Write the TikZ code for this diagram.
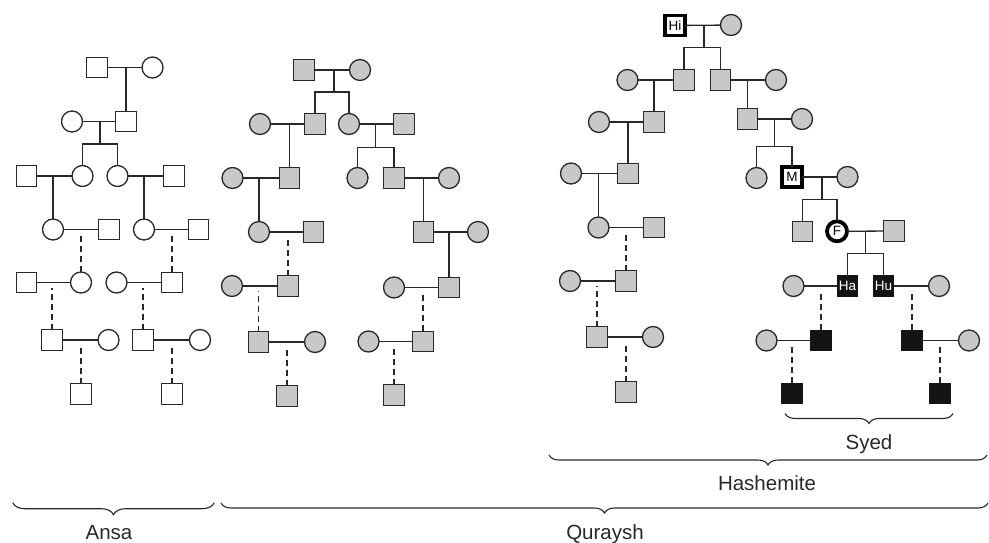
\documentclass[tikz,border=0pt]{standalone}
\usepackage{fontspec}
\setmainfont{Liberation Sans}
\usetikzlibrary{decorations.pathreplacing}
\definecolor{lc}{RGB}{40,40,40}
\definecolor{gfill}{RGB}{200,200,200}
\definecolor{bfill}{RGB}{20,20,20}
\begin{document}
\begin{tikzpicture}[x=1pt,y=-1pt,
  every node/.style={inner sep=0pt, outer sep=0pt},
  male/.style={rectangle, draw=lc, line width=1.3pt, minimum size=20.5pt},
  fem/.style={circle, draw=lc, line width=1.3pt, minimum size=21pt},
  plain/.style={fill=white},
  shade/.style={fill=gfill},
  dark/.style={fill=bfill, draw=bfill, text=white},
  heavy/.style={line width=3.8pt, draw=black, fill=white, minimum size=20pt},
  link/.style={draw=lc, line width=1.3pt},
  dlink/.style={link, dash pattern=on 6pt off 4pt, shorten >=5pt},
  tag/.style={font=\fontsize{13.5}{15}\selectfont},
  group/.style={font=\fontsize{20.5}{24}\selectfont, anchor=base, text=lc},
  brc/.style={draw=lc, line width=1.1pt, decorate, decoration={brace, mirror, amplitude=10pt}}
]
\useasboundingbox (0,0) rectangle (989,542);

% ---------------- Ansa ----------------
\node[male,plain] (A1) at (97,67.5) {};
\node[fem,plain] (A2) at (152.5,67.5) {};
\node[fem,plain] (A4) at (72,121.5) {};
\node[male,plain] (A3) at (126,121.5) {};
\node[male,plain] (A5) at (26.5,176) {};
\node[fem,plain] (A6) at (82.5,176) {};
\node[fem,plain] (A7) at (117.5,176) {};
\node[male,plain] (A8) at (174,176) {};
\node[fem,plain] (A9) at (53,229.5) {};
\node[male,plain] (A10) at (109,229.5) {};
\node[fem,plain] (A11) at (144,229.5) {};
\node[male,plain] (A12) at (198.5,229.5) {};
\node[male,plain] (A13) at (26.5,282.5) {};
\node[fem,plain] (A14) at (81,282.5) {};
\node[fem,plain] (A15) at (116.5,282.5) {};
\node[male,plain] (A16) at (172,282.5) {};
\node[male,plain] (A17) at (52,340) {};
\node[fem,plain] (A18) at (108.5,340) {};
\node[male,plain] (A19) at (143,340) {};
\node[fem,plain] (A20) at (200,340) {};
\node[male,plain] (A21) at (81,394) {};
\node[male,plain] (A22) at (172,394) {};

\draw[link] (A1) -- (A2);
\draw[link] (A3.north) -- (A3.north |- A1);
\draw[link] (A4) -- (A3);
\coordinate (A34) at (100,121.5);
\coordinate (A34b) at (100,144);
\draw[link] (A34) -- (A34b);
\draw[link] (A6.north) |- (A34b) -| (A7.north);
\draw[link] (A5) -- (A6);
\draw[link] (A9.north) -- (A9.north |- A5);
\draw[link] (A7) -- (A8);
\draw[link] (A11.north) -- (A11.north |- A7);
\draw[link] (A9) -- (A10);
\draw[dlink] (A14.north) -- (A14.north |- A9);
\draw[link] (A11) -- (A12);
\draw[dlink] (A16.north) -- (A16.north |- A11);
\draw[link] (A13) -- (A14);
\draw[dlink] (A17.north) -- (A17.north |- A13);
\draw[link] (A15) -- (A16);
\draw[dlink] (A19.north) -- (A19.north |- A15);
\draw[link] (A17) -- (A18);
\draw[dlink] (A21.north) -- (A21.north |- A17);
\draw[link] (A19) -- (A20);
\draw[dlink] (A22.north) -- (A22.north |- A19);

% ---------------- Quraysh ----------------
\node[male,shade] (Q1) at (304,70) {};
\node[fem,shade] (Q2) at (360,70) {};
\node[fem,shade] (Q3) at (260,124) {};
\node[male,shade] (Q4) at (315,124) {};
\node[fem,shade] (Q5) at (349,124) {};
\node[male,shade] (Q6) at (404,124) {};
\node[fem,shade] (Q7) at (232.5,178) {};
\node[male,shade] (Q8) at (289.5,178) {};
\node[fem,shade] (Q9) at (357.5,178) {};
\node[male,shade] (Q10) at (394,178) {};
\node[fem,shade] (Q11) at (449,178) {};
\node[fem,shade] (Q12) at (259,232) {};
\node[male,shade] (Q13) at (313.5,232) {};
\node[male,shade] (Q14) at (423.5,232) {};
\node[fem,shade] (Q15) at (478,232) {};
\node[fem,shade] (Q16) at (232,286) {};
\node[male,shade] (Q17) at (288,286) {};
\node[fem,shade] (Q18) at (394,287.5) {};
\node[male,shade] (Q19) at (449,287.5) {};
\node[male,shade] (Q20) at (258.5,342) {};
\node[fem,shade] (Q21) at (315,342) {};
\node[fem,shade] (Q22) at (368.5,341.5) {};
\node[male,shade] (Q23) at (423,341.5) {};
\node[male,shade] (Q24) at (287,396) {};
\node[male,shade] (Q25) at (394,395) {};

\draw[link] (Q1) -- (Q2);
\coordinate (Q12m) at (334,70);
\coordinate (Q12b) at (334,92);
\draw[link] (Q12m) -- (Q12b);
\draw[link] (Q4.north) |- (Q12b) -| (Q5.north);
\draw[link] (Q3) -- (Q4);
\draw[link] (Q8.north) -- (Q8.north |- Q3);
\draw[link] (Q5) -- (Q6);
\coordinate (Q56m) at (375.7,124);
\coordinate (Q56b) at (375.7,147.3);
\draw[link] (Q56m) -- (Q56b);
\draw[link] (Q9.north) |- (Q56b) -| (Q10.north);
\draw[link] (Q7) -- (Q8);
\draw[link] (Q12.north) -- (Q12.north |- Q7);
\draw[link] (Q10) -- (Q11);
\draw[link] (Q14.north) -- (Q14.north |- Q10);
\draw[link] (Q12) -- (Q13);
\draw[dlink] (Q17.north) -- (Q17.north |- Q12);
\draw[link] (Q14) -- (Q15);
\draw[link] (Q19.north) -- (Q19.north |- Q14);
\draw[link] (Q16) -- (Q17);
\draw[dlink] (Q20.north) -- (Q20.north |- Q16);
\draw[link] (Q18) -- (Q19);
\draw[dlink] (Q23.north) -- (Q23.north |- Q18);
\draw[link] (Q20) -- (Q21);
\draw[dlink] (Q24.north) -- (Q24.north |- Q20);
\draw[link] (Q22) -- (Q23);
\draw[dlink] (Q25.north) -- (Q25.north |- Q22);

% ---------------- Hashemite ----------------
\node[male,heavy,tag] (H1) at (675,25.5) {Hi};
\node[fem,shade] (H2) at (731,25) {};
\node[fem,shade] (H3) at (627.5,80) {};
\node[male,shade] (H4) at (684,80) {};
\node[male,shade] (H5) at (720.5,80) {};
\node[fem,shade] (H6) at (776,80) {};
\node[fem,shade] (H7) at (599,122) {};
\node[male,shade] (H8) at (654,122) {};
\node[male,shade] (H9) at (747.5,119) {};
\node[fem,shade] (H10) at (802,119) {};
\node[fem,shade] (H11) at (571,173.5) {};
\node[male,shade] (H12) at (628,173.5) {};
\node[fem,shade] (H13) at (756.5,178) {};
\node[male,heavy,tag] (H14) at (792,177) {M};
\node[fem,shade] (H15) at (847.5,177) {};
\node[fem,shade] (H16) at (598.5,227.5) {};
\node[male,shade] (H17) at (654,227.5) {};
\node[male,shade] (H18) at (802.5,231.5) {};
\node[fem,heavy,tag] (H19) at (837,231.3) {F};
\node[male,shade] (H20) at (894,231) {};
\node[fem,shade] (H21) at (570,281) {};
\node[male,shade] (H22) at (626,281) {};
\node[fem,shade] (H23) at (793.5,286) {};
\node[male,dark,tag] (H24) at (847.5,286) {Ha};
\node[male,dark,tag] (H25) at (883.5,286) {Hu};
\node[fem,shade] (H26) at (939,286) {};
\node[male,shade] (H27) at (597,337) {};
\node[fem,shade] (H28) at (653,337) {};
\node[fem,shade] (H29) at (766.5,340.5) {};
\node[male,dark] (H30) at (821,340.5) {};
\node[male,dark] (H31) at (912,340.5) {};
\node[fem,shade] (H32) at (969,340.5) {};
\node[male,shade] (H33) at (626,392) {};
\node[male,dark] (H34) at (792,393.5) {};
\node[male,dark] (H35) at (940,393.5) {};

\draw[link] (H1) -- (H2);
\coordinate (H12m) at (704,25);
\coordinate (H12b) at (704,47.3);
\draw[link] (H12m) -- (H12b);
\draw[link] (H4.north) |- (H12b) -| (H5.north);
\draw[link] (H3) -- (H4);
\draw[link] (H8.north) -- (H8.north |- H3);
\draw[link] (H5) -- (H6);
\draw[link] (H9.north) -- (H9.north |- H5);
\draw[link] (H7) -- (H8);
\draw[link] (H12.north) -- (H12.north |- H7);
\draw[link] (H9) -- (H10);
\coordinate (H910m) at (774.3,119);
\coordinate (H910b) at (774.3,146.7);
\draw[link] (H910m) -- (H910b);
\draw[link] (H13.north) |- (H910b) -| (H14.north);
\draw[link] (H11) -- (H12);
\draw[link] (H16.north) -- (H16.north |- H11);
\draw[link] (H14) -- (H15);
\coordinate (H1415m) at (822,177);
\coordinate (H1415b) at (822,199.3);
\draw[link] (H1415m) -- (H1415b);
\draw[link] (H18.north) |- (H1415b) -| (H19.north);
\draw[link] (H16) -- (H17);
\draw[dlink] (H22.north) -- (H22.north |- H16);
\draw[link] (H19) -- (H20);
\coordinate (H1920m) at (865.7,231.2);
\coordinate (H1920b) at (865.7,253.3);
\draw[link] (H1920m) -- (H1920b);
\draw[link] (H24.north) |- (H1920b) -| (H25.north);
\draw[link] (H21) -- (H22);
\draw[dlink] (H27.north) -- (H27.north |- H21);
\draw[link] (H23) -- (H24);
\draw[dlink] (H30.north) -- (H30.north |- H23);
\draw[link] (H25) -- (H26);
\draw[dlink] (H31.north) -- (H31.north |- H25);
\draw[link] (H27) -- (H28);
\draw[dlink] (H33.north) -- (H33.north |- H27);
\draw[link] (H29) -- (H30);
\draw[dlink] (H34.north) -- (H34.north |- H29);
\draw[link] (H31) -- (H32);
\draw[dlink] (H35.north) -- (H35.north |- H31);

% ---------------- braces and group names ----------------
\coordinate (syL) at (785,413.5);
\coordinate (syR) at (953,413.5);
\draw[brc] (syL) -- (syR);
\node[group] (syed) at (869,449) {Syed};

\coordinate (haL) at (549,455);
\coordinate (haR) at (987,455);
\draw[brc] (haL) -- (haR);
\node[group] (hash) at (767,490.7) {Hashemite};

\coordinate (anL) at (12.7,502.7);
\coordinate (anR) at (214.3,502.7);
\draw[brc, decoration={brace, mirror, amplitude=12pt}] (anL) -- (anR);
\node[group] (ansa) at (109,539.3) {Ansa};

\coordinate (quL) at (221,503);
\coordinate (quR) at (988,503);
\draw[brc] (quL) -- (quR);
\node[group] (qur) at (605,539) {Quraysh};
\end{tikzpicture}
\end{document}
